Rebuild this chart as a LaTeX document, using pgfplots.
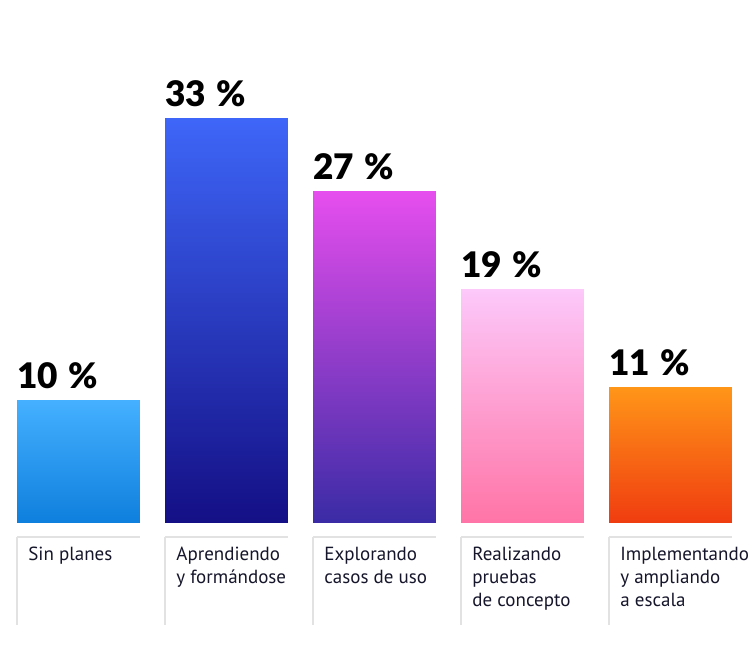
\documentclass[border=0pt]{standalone}
\usepackage{pgfplots}
\pgfplotsset{compat=1.18}
\usepackage{fontspec}
\setmainfont{PT Sans}
\newfontfamily\heavy{Lato Black}

\definecolor{bTopA}{HTML}{45B0FF}\definecolor{bBotA}{HTML}{0E7FDD}
\definecolor{bTopB}{HTML}{3E66F8}\definecolor{bBotB}{HTML}{140F85}
\definecolor{bTopC}{HTML}{E64EEE}\definecolor{bBotC}{HTML}{3A2BA5}
\definecolor{bTopD}{HTML}{FDC8FA}\definecolor{bBotD}{HTML}{FF74A6}
\definecolor{bTopE}{HTML}{FF9518}\definecolor{bBotE}{HTML}{F03C10}
\definecolor{labtext}{HTML}{15152B}
\definecolor{sepline}{HTML}{E2E2E2}

\begin{document}
\begin{tikzpicture}
\path[use as bounding box] (0,0) rectangle (375pt,331.5pt);
\begin{axis}[
    at={(2.25pt,70pt)}, anchor=south west,
    scale only axis,
    width=370pt, height=245.45pt,
    xmin=-0.5, xmax=4.5, ymin=0, ymax=40,
    ybar, bar width=0.831, bar shift=0pt,
    axis line style={draw=none},
    tick style={draw=none},
    ytick=\empty,
    xtick={0,1,2,3,4},
    xticklabels={Sin planes,Aprendiendo\\y formándose,Explorando\\casos de uso,Realizando\\pruebas\\de concepto,Implementando\\y ampliando\\a escala},
    xticklabel style={anchor=north west, align=left, inner sep=0pt,
        xshift=-25.25pt, yshift=-7.6pt,
        font=\fontsize{9.5}{11.6}\selectfont, text=labtext},
    nodes near coords={\pgfmathprintnumber{\pgfplotspointmeta}\kern0.3em\%},
    nodes near coords style={anchor=base west, inner sep=0pt,
        xshift=-30.75pt, yshift=6pt, font=\heavy\fontsize{17.6}{20}\selectfont, text=black},
    /pgf/number format/assume math mode=true,
    clip=false,
]
\addplot[draw=none, top color=bTopA, bottom color=bBotA] coordinates {(0,10)};
\addplot[draw=none, top color=bTopB, bottom color=bBotB] coordinates {(1,33)};
\addplot[draw=none, top color=bTopC, bottom color=bBotC] coordinates {(2,27)};
\addplot[draw=none, top color=bTopD, bottom color=bBotD] coordinates {(3,19)};
\addplot[draw=none, top color=bTopE, bottom color=bBotE] coordinates {(4,11)};
\pgfplotsinvokeforeach{0,1,2,3,4}{
  \draw[sepline, line width=1pt] (axis cs:#1-0.4155,-1.14) -- (axis cs:#1+0.4155,-1.14);
  \draw[sepline, line width=0.6pt] (axis cs:#1-0.4155,-1.14) -- (axis cs:#1-0.4155,-8.31);
}
\end{axis}
\end{tikzpicture}
\end{document}
